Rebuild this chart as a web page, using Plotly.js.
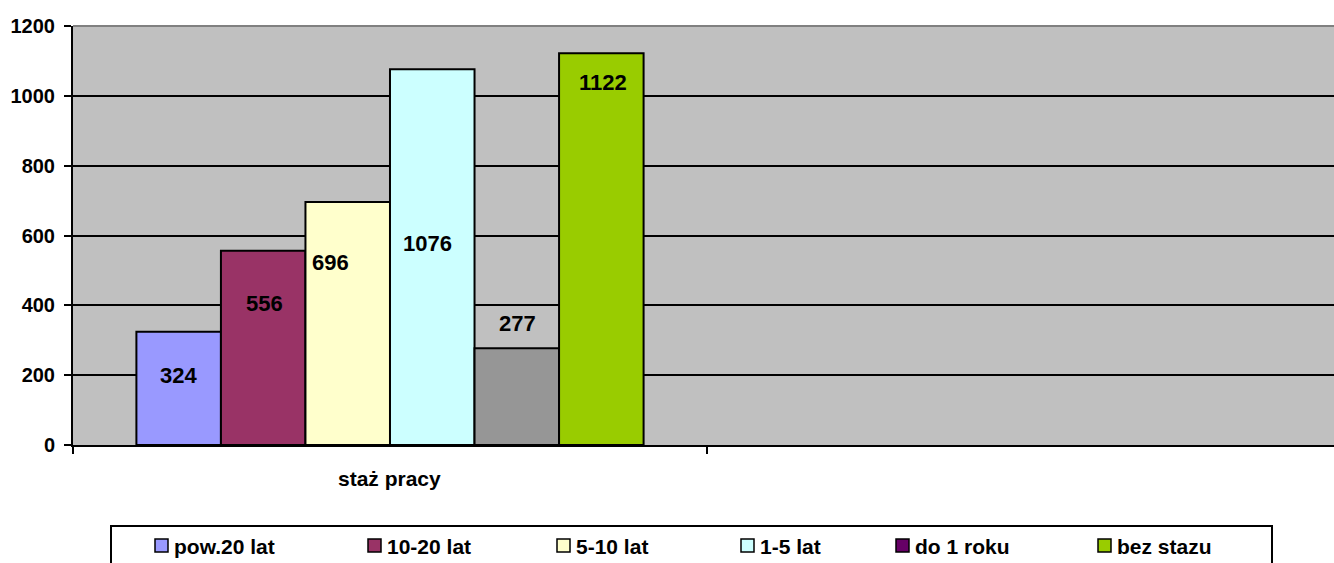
<!DOCTYPE html>
<html>
<head>
<meta charset="utf-8">
<script src="https://cdn.plot.ly/plotly-3.0.1.min.js"></script>
<style>
  html, body { margin: 0; padding: 0; background: #fff; }
  #chart { width: 1334px; height: 563px; }
</style>
</head>
<body>
<div id="chart"></div>
<script>
// Dane: staż pracy
const category = 'staż pracy';
const seriesNames = ['pow.20 lat', '10-20 lat', '5-10 lat', '1-5 lat', 'do 1 roku', 'bez stazu'];
const seriesValues = [324, 556, 696, 1076, 277, 1122];
const barColors = ['#9999FF', '#993366', '#FFFFCC', '#CCFFFF', '#969696', '#99CC00'];
const legendColors = ['#9999FF', '#993366', '#FFFFCC', '#CCFFFF', '#660066', '#99CC00'];
const yTicks = [0, 200, 400, 600, 800, 1000, 1200];

// Przesunięcia etykiet (px) względem wierzchołka słupka
const labelShiftY = [-44, -53, -61, -174, 25, -29];
const labelShiftX = [0, 1, -17, -5, 1, 2];
// Pozycje wpisów legendy (px od lewej)
const legendLeft = [155, 368, 557, 741, 896, 1098];

const W = 1334, H = 563;
const M = { l: 73, r: 0, t: 26, b: 118 };
const plotW = W - M.l - M.r;
const plotH = H - M.t - M.b;
const px2x = px => (px - M.l) / plotW;
const px2y = py => (H - M.b - py) / plotH;

const font = { family: 'Liberation Sans, Arial, sans-serif', color: '#000', weight: 'bold' };
const bargap = 0.2;
const barW = (1 - bargap) / seriesNames.length;

const traces = seriesNames.map((name, i) => ({
    type: 'bar',
    name: name,
    x: [0],
    y: [seriesValues[i]],
    marker: { color: barColors[i], line: { color: '#000', width: 2 } },
    showlegend: false,
    hoverinfo: 'name+y'
}));

// Etykiety danych
const annotations = seriesValues.map((v, i) => ({
    xref: 'x', yref: 'y',
    x: -(1 - bargap) / 2 + barW * (i + 0.5),
    y: v,
    xshift: labelShiftX[i],
    yshift: labelShiftY[i],
    text: String(v),
    showarrow: false,
    font: { ...font, size: 22 },
    xanchor: 'center', yanchor: 'middle'
}));

annotations.push({
    xref: 'x', yref: 'paper',
    x: 0, y: px2y(479),
    text: category,
    showarrow: false,
    font: { ...font, size: 21 },
    xanchor: 'center', yanchor: 'middle'
});

const shapes = [
    // górna krawędź obszaru wykresu
    { type: 'line', xref: 'paper', yref: 'paper', x0: 0, x1: 1, y0: 1, y1: 1,
      line: { color: '#808080', width: 2 } },
    // ramka legendy
    { type: 'rect', xref: 'paper', yref: 'paper',
      x0: px2x(111), x1: px2x(1272), y0: px2y(526), y1: px2y(600),
      line: { color: '#000', width: 2 }, fillcolor: 'rgba(0,0,0,0)' }
];

// Legenda rysowana ręcznie (kolor "do 1 roku" różni się od słupka)
seriesNames.forEach((name, i) => {
    const left = legendLeft[i];
    shapes.push({
        type: 'rect', xref: 'paper', yref: 'paper',
        x0: px2x(left), x1: px2x(left + 13),
        y0: px2y(539), y1: px2y(552),
        fillcolor: legendColors[i],
        line: { color: '#000', width: 1.5 }
    });
    annotations.push({
        xref: 'paper', yref: 'paper',
        x: px2x(left + 17), y: px2y(546),
        text: name,
        showarrow: false,
        font: { ...font, size: 21 },
        xanchor: 'left', yanchor: 'middle'
    });
});

const layout = {
    width: W,
    height: H,
    margin: M,
    paper_bgcolor: '#fff',
    plot_bgcolor: '#C0C0C0',
    barmode: 'group',
    bargap: bargap,
    bargroupgap: 0,
    showlegend: false,
    xaxis: {
        // obszar wykresu w oryginale wychodzi nieco poza prawą krawędź
        range: [-0.5, 1.489],
        tickvals: [-0.5, 0.5, 1.5],
        ticktext: ['', '', ''],
        ticks: 'outside', ticklen: 7, tickwidth: 2, tickcolor: '#000',
        showline: true, linecolor: '#000', linewidth: 2,
        showgrid: false, zeroline: false,
        fixedrange: true
    },
    yaxis: {
        range: [0, 1200],
        tickvals: yTicks,
        ticks: 'outside', ticklen: 7, tickwidth: 2, tickcolor: '#000',
        ticklabelstandoff: 5,
        tickfont: { ...font, size: 20 },
        showline: true, linecolor: '#000', linewidth: 2,
        showgrid: true, gridcolor: '#000', gridwidth: 2,
        zeroline: false,
        fixedrange: true
    },
    annotations: annotations,
    shapes: shapes
};

Plotly.newPlot('chart', traces, layout, { displayModeBar: false, staticPlot: true });
</script>
</body>
</html>
